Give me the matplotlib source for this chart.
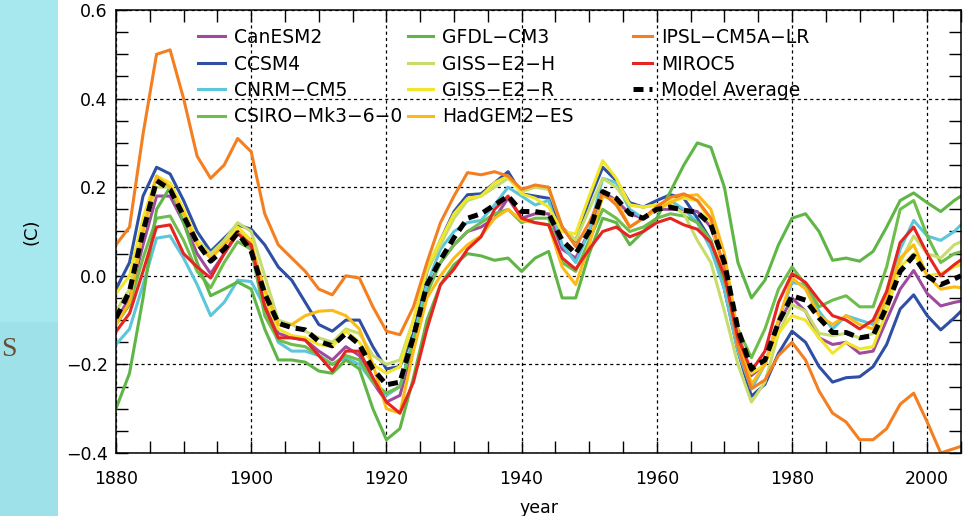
import matplotlib
matplotlib.use("Agg")
import matplotlib.pyplot as plt
from matplotlib.patches import Rectangle
from matplotlib.ticker import MultipleLocator

plt.rcParams['font.family'] = ['DejaVu Sans']

years = list(range(1880, 2005, 2)) + [2005]

canesm2 = [
    -0.10, -0.05, 0.07, 0.18, 0.18, 0.12, 0.05, 0.005, 0.05, 0.10,
    0.06, -0.06, -0.13, -0.14, -0.145, -0.17, -0.19, -0.16, -0.18, -0.24,
    -0.285, -0.27, -0.16, -0.03, 0.03, 0.07, 0.10, 0.11, 0.13, 0.175,
    0.13, 0.14, 0.14, 0.06, 0.04, 0.10, 0.19, 0.17, 0.14, 0.13,
    0.15, 0.15, 0.15, 0.145, 0.11, 0.02, -0.13, -0.225, -0.20, -0.11,
    -0.05, -0.08, -0.14, -0.155, -0.15, -0.175, -0.17, -0.10, -0.03, 0.012,
    -0.04, -0.068, -0.06, -0.057]
ccsm4 = [
    -0.03, 0.03, 0.18, 0.245, 0.23, 0.17, 0.10, 0.055, 0.085, 0.115,
    0.105, 0.07, 0.02, -0.01, -0.06, -0.11, -0.125, -0.10, -0.10, -0.16,
    -0.21, -0.205, -0.13, 0.01, 0.08, 0.145, 0.183, 0.185, 0.21, 0.235,
    0.185, 0.18, 0.175, 0.11, 0.078, 0.17, 0.245, 0.215, 0.165, 0.155,
    0.17, 0.183, 0.175, 0.13, 0.08, -0.03, -0.17, -0.272, -0.245, -0.175,
    -0.125, -0.15, -0.205, -0.24, -0.23, -0.228, -0.205, -0.155, -0.075, -0.043,
    -0.09, -0.122, -0.095, -0.08]
cnrm_cm5 = [
    -0.155, -0.12, -0.02, 0.085, 0.09, 0.04, -0.02, -0.09, -0.06, -0.01,
    -0.013, -0.07, -0.15, -0.17, -0.17, -0.18, -0.20, -0.185, -0.20, -0.24,
    -0.27, -0.25, -0.14, -0.02, 0.06, 0.10, 0.12, 0.125, 0.16, 0.20,
    0.18, 0.16, 0.17, 0.07, 0.03, 0.10, 0.22, 0.21, 0.15, 0.13,
    0.15, 0.17, 0.15, 0.12, 0.06, -0.03, -0.17, -0.255, -0.20, -0.10,
    -0.015, -0.02, -0.08, -0.12, -0.09, -0.10, -0.11, -0.04, 0.06, 0.125,
    0.09, 0.08, 0.10, 0.115]
csiro = [
    -0.11, -0.065, 0.04, 0.13, 0.135, 0.08, 0.01, -0.027, 0.03, 0.077,
    0.06, -0.09, -0.145, -0.155, -0.16, -0.18, -0.20, -0.18, -0.19, -0.24,
    -0.265, -0.25, -0.15, -0.04, 0.03, 0.07, 0.10, 0.12, 0.14, 0.15,
    0.12, 0.13, 0.13, 0.03, 0.01, 0.08, 0.15, 0.13, 0.10, 0.11,
    0.13, 0.14, 0.135, 0.12, 0.08, -0.01, -0.12, -0.185, -0.12, -0.03,
    0.02, -0.02, -0.07, -0.055, -0.045, -0.07, -0.07, 0.02, 0.15, 0.17,
    0.09, 0.03, 0.05, 0.054]
gfdl_cm3 = [
    -0.30, -0.22, -0.05, 0.15, 0.20, 0.12, 0.03, -0.045, -0.03, -0.014,
    -0.03, -0.12, -0.19, -0.19, -0.195, -0.215, -0.22, -0.19, -0.21, -0.30,
    -0.37, -0.345, -0.23, -0.10, -0.02, 0.025, 0.05, 0.045, 0.035, 0.04,
    0.01, 0.04, 0.055, -0.05, -0.05, 0.05, 0.13, 0.12, 0.07, 0.10,
    0.13, 0.19, 0.25, 0.30, 0.29, 0.20, 0.03, -0.05, -0.01, 0.07,
    0.13, 0.14, 0.10, 0.035, 0.04, 0.033, 0.055, 0.11, 0.17, 0.187,
    0.165, 0.145, 0.17, 0.18]
giss_e2_h = [
    -0.08, -0.03, 0.10, 0.20, 0.20, 0.14, 0.08, 0.05, 0.08, 0.12,
    0.10, 0.00, -0.10, -0.11, -0.125, -0.14, -0.15, -0.12, -0.13, -0.18,
    -0.20, -0.19, -0.10, 0.01, 0.07, 0.13, 0.17, 0.18, 0.20, 0.22,
    0.19, 0.20, 0.195, 0.11, 0.08, 0.15, 0.22, 0.20, 0.16, 0.155,
    0.16, 0.16, 0.14, 0.08, 0.03, -0.08, -0.20, -0.285, -0.24, -0.13,
    -0.065, -0.08, -0.13, -0.135, -0.13, -0.14, -0.13, -0.06, 0.03, 0.09,
    0.05, 0.04, 0.07, 0.077]
giss_e2_r = [
    -0.04, 0.00, 0.13, 0.225, 0.21, 0.15, 0.08, 0.04, 0.07, 0.11,
    0.08, -0.05, -0.12, -0.135, -0.14, -0.155, -0.16, -0.125, -0.15, -0.20,
    -0.22, -0.205, -0.10, 0.02, 0.08, 0.14, 0.175, 0.18, 0.21, 0.225,
    0.185, 0.175, 0.155, 0.10, 0.095, 0.18, 0.26, 0.22, 0.16, 0.155,
    0.16, 0.17, 0.175, 0.17, 0.12, 0.00, -0.15, -0.22, -0.20, -0.13,
    -0.09, -0.10, -0.14, -0.175, -0.15, -0.165, -0.16, -0.08, 0.02, 0.05,
    0.00, 0.005, 0.02, 0.025]
hadgem2_es = [
    -0.11, -0.06, 0.10, 0.225, 0.20, 0.14, 0.07, 0.04, 0.07, 0.10,
    0.07, -0.03, -0.11, -0.11, -0.09, -0.08, -0.078, -0.09, -0.12, -0.20,
    -0.30, -0.31, -0.17, -0.05, 0.00, 0.04, 0.07, 0.09, 0.13, 0.15,
    0.125, 0.12, 0.115, 0.02, -0.02, 0.07, 0.18, 0.17, 0.11, 0.13,
    0.15, 0.165, 0.18, 0.183, 0.15, 0.05, -0.13, -0.245, -0.20, -0.10,
    -0.005, -0.03, -0.09, -0.11, -0.09, -0.11, -0.12, -0.05, 0.04, 0.07,
    0.00, -0.03, -0.025, -0.027]
ipsl_cm5a_lr = [
    0.07, 0.11, 0.32, 0.50, 0.51, 0.40, 0.27, 0.22, 0.25, 0.31,
    0.28, 0.14, 0.07, 0.04, 0.01, -0.03, -0.043, 0.00, -0.005, -0.07,
    -0.125, -0.133, -0.07, 0.03, 0.12, 0.18, 0.233, 0.228, 0.235, 0.225,
    0.195, 0.205, 0.20, 0.11, 0.066, 0.12, 0.187, 0.16, 0.11, 0.13,
    0.156, 0.177, 0.185, 0.17, 0.13, 0.01, -0.16, -0.255, -0.235, -0.18,
    -0.15, -0.19, -0.26, -0.31, -0.33, -0.37, -0.37, -0.345, -0.29, -0.265,
    -0.33, -0.40, -0.39, -0.385]
miroc5 = [
    -0.126, -0.085, 0.01, 0.11, 0.115, 0.05, 0.02, -0.005, 0.05, 0.095,
    0.07, -0.07, -0.14, -0.14, -0.145, -0.18, -0.215, -0.17, -0.17, -0.23,
    -0.285, -0.31, -0.24, -0.12, -0.02, 0.015, 0.06, 0.088, 0.15, 0.18,
    0.13, 0.12, 0.115, 0.04, 0.015, 0.06, 0.10, 0.11, 0.088, 0.10,
    0.12, 0.13, 0.115, 0.105, 0.075, 0.00, -0.14, -0.215, -0.17, -0.06,
    0.005, -0.015, -0.055, -0.09, -0.10, -0.12, -0.10, -0.035, 0.075, 0.11,
    0.05, 0.00, 0.025, 0.036]
model_avg = [
    -0.095, -0.035, 0.10, 0.215, 0.195, 0.135, 0.075, 0.033, 0.06, 0.097,
    0.055, -0.04, -0.107, -0.117, -0.122, -0.148, -0.158, -0.13, -0.155, -0.21,
    -0.246, -0.24, -0.138, -0.02, 0.036, 0.086, 0.13, 0.14, 0.16, 0.18,
    0.145, 0.145, 0.14, 0.08, 0.05, 0.10, 0.19, 0.175, 0.14, 0.13,
    0.15, 0.155, 0.148, 0.143, 0.115, 0.03, -0.12, -0.21, -0.19, -0.105,
    -0.045, -0.055, -0.095, -0.128, -0.128, -0.14, -0.135, -0.07, 0.01, 0.045,
    0.0, -0.02, -0.007, 0.0]

names = ['CanESM2', 'CCSM4', 'CNRM\u2212CM5', 'CSIRO\u2212Mk3\u22126\u22120',
         'GFDL\u2212CM3', 'GISS\u2212E2\u2212H', 'GISS\u2212E2\u2212R', 'HadGEM2\u2212ES',
         'IPSL\u2212CM5A\u2212LR', 'MIROC5']
series = [canesm2, ccsm4, cnrm_cm5, csiro, gfdl_cm3, giss_e2_h, giss_e2_r,
          hadgem2_es, ipsl_cm5a_lr, miroc5]
colors = ['#A04A9E', '#2E4FA3', '#5CC6DA', '#6DBE4B', '#5FB646', '#C6DC6C',
          '#F2E62A', '#FCBA16', '#F47F21', '#E52521']

fig = plt.figure(figsize=(9.65, 5.16), dpi=100)

# cyan strip of the slide behind the figure
fig.patches.append(Rectangle((0, 0), 58 / 965, 1, transform=fig.transFigure,
                             facecolor='#A6E8EE', edgecolor='none', zorder=0))
fig.patches.append(Rectangle((0, 0), 58 / 965, 1 - 322 / 516, transform=fig.transFigure,
                             facecolor='#9FE1E9', edgecolor='none', zorder=0))
fig.text(1 / 965, 1 - 356 / 516, 'S', fontsize=20, family='Liberation Serif',
         color='#6B4C36', ha='left', va='baseline')

ax = fig.add_axes([116 / 965, 1 - 453 / 516, 845 / 965, 443 / 516])

lines = []
for name, vals, c in zip(names, series, colors):
    l, = ax.plot(years, vals, color=c, lw=2.2, label=name, solid_joinstyle='round')
    lines.append(l)
avg, = ax.plot(years, model_avg, color='black', lw=3.6, dashes=(2.0, 1.2),
               label='Model Average')
lines.append(avg)

ax.set_xlim(1880, 2005)
ax.set_ylim(-0.4, 0.6)
ax.xaxis.set_major_locator(MultipleLocator(20))
ax.xaxis.set_minor_locator(MultipleLocator(5))
ax.yaxis.set_major_locator(MultipleLocator(0.2))
ax.yaxis.set_minor_locator(MultipleLocator(0.05))
ax.yaxis.set_major_formatter(plt.FuncFormatter(lambda v, p: f'{v:.1f}'.replace('-', '\u2212')))
ax.tick_params(which='both', direction='in', length=8.5, width=1, top=True, right=True,
               labelsize=12.5)
ax.tick_params(axis='x', pad=12)
ax.tick_params(axis='y', pad=6)
ax.grid(which='major', color='black', linestyle=(0, (2.5, 2.5)), linewidth=0.9)
for s in ax.spines.values():
    s.set_linewidth(1.1)

ax.set_xlabel('year', fontsize=12.5, labelpad=8)
fig.text(31 / 965, 1 - 232 / 516, '(C)', rotation=90, fontsize=13, ha='center', va='center')

leg_kw = dict(frameon=False, fontsize=13.5, handletextpad=0.48,
              labelspacing=0.4, borderpad=0, borderaxespad=0)
leg1 = ax.legend(handles=lines[0:4], loc='upper left', handlelength=1.44,
                 bbox_to_anchor=(198 / 965, 1 - 28 / 516), bbox_transform=fig.transFigure, **leg_kw)
ax.add_artist(leg1)
leg2 = ax.legend(handles=lines[4:8], loc='upper left', handlelength=1.35,
                 bbox_to_anchor=(408 / 965, 1 - 28 / 516), bbox_transform=fig.transFigure, **leg_kw)
ax.add_artist(leg2)
leg3 = ax.legend(handles=lines[8:11], loc='upper left', handlelength=1.0,
                 bbox_to_anchor=(633 / 965, 1 - 28 / 516), bbox_transform=fig.transFigure, **leg_kw)

fig.savefig('out.png', dpi=100)
